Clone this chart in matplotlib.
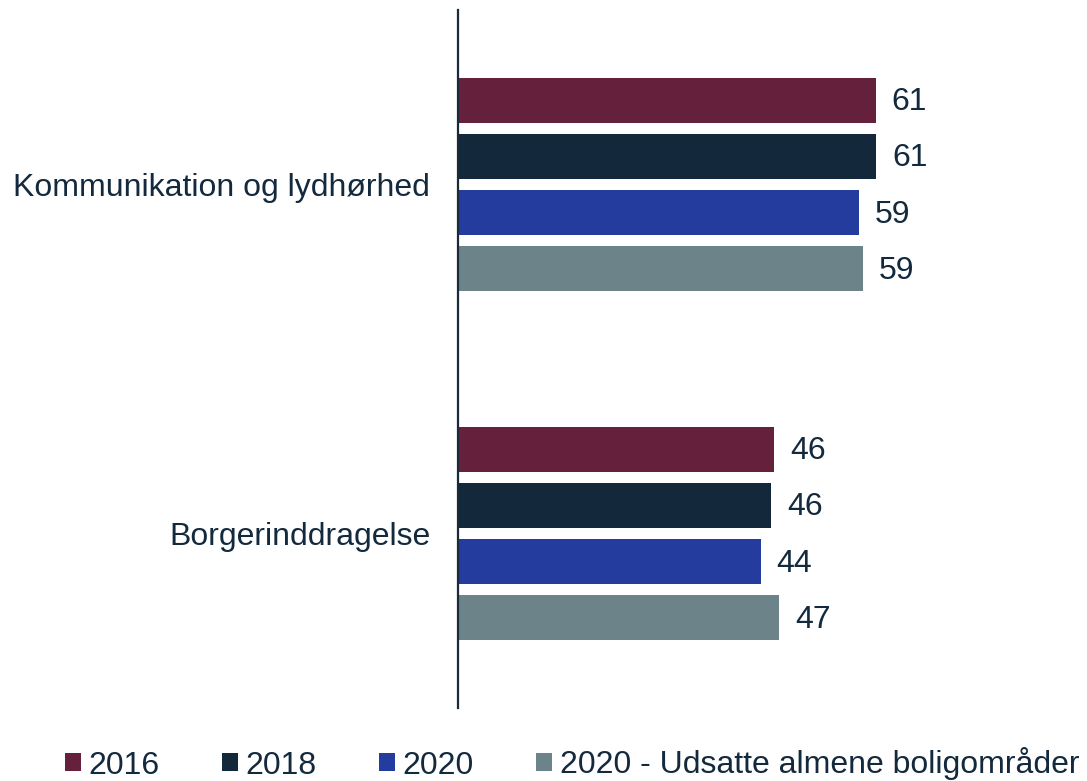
import numpy as np
import matplotlib.pyplot as plt
from matplotlib.patches import Patch

plt.rcParams['font.family'] = ['Liberation Sans', 'DejaVu Sans']

categories = ['Kommunikation og lydhørhed', 'Borgerinddragelse']
series = ['2016', '2018', '2020', '2020 - Udsatte almene boligområder']
values_2016 = [61.0, 46.2]
values_2018 = [61.1, 45.8]
values_2020 = [58.6, 44.2]
values_udsatte = [59.1, 46.9]

colors = ['#65203C', '#13283A', '#233C9E', '#6C838A']
text_color = '#13293D'

fig = plt.figure(figsize=(10.87, 7.81), dpi=100)
ax = fig.add_axes([458 / 1087, 73 / 781, 616 / 1087, 698 / 781])

y = np.arange(len(categories))
offsets = [-0.242, -0.081, 0.081, 0.242]
bar_h = 0.129
all_values = [values_2016, values_2018, values_2020, values_udsatte]

for vals, off, col in zip(all_values, offsets, colors):
    bars = ax.barh(y + off, vals, height=bar_h, color=col)
    for b, v in zip(bars, vals):
        ax.annotate(f"{v:.0f}", (b.get_width(), b.get_y() + b.get_height() / 2),
                    xytext=(16, -2), textcoords='offset pixels',
                    va='center', ha='left', fontsize=23, color=text_color)

ax.set_xlim(0, 90)
ax.set_ylim(1.5, -0.5)
ax.set_yticks(y)
ax.set_yticklabels(categories, fontsize=23, color=text_color)
ax.tick_params(axis='y', length=0, pad=20)
ax.set_xticks([])
for s in ['top', 'right', 'bottom']:
    ax.spines[s].set_visible(False)
ax.spines['left'].set_color('#1B2A38')
ax.spines['left'].set_linewidth(1.6)

handles = [Patch(facecolor=c) for c in colors]
leg = fig.legend(handles, series, loc='center', bbox_to_anchor=(572 / 1087, 17 / 781),
                 ncol=4, frameon=False, fontsize=23, handlelength=0.5, handleheight=0.5,
                 handletextpad=0.25, columnspacing=1.94, borderpad=0, borderaxespad=0)
for t in leg.get_texts():
    t.set_color(text_color)

fig.savefig('out.png', dpi=100)
